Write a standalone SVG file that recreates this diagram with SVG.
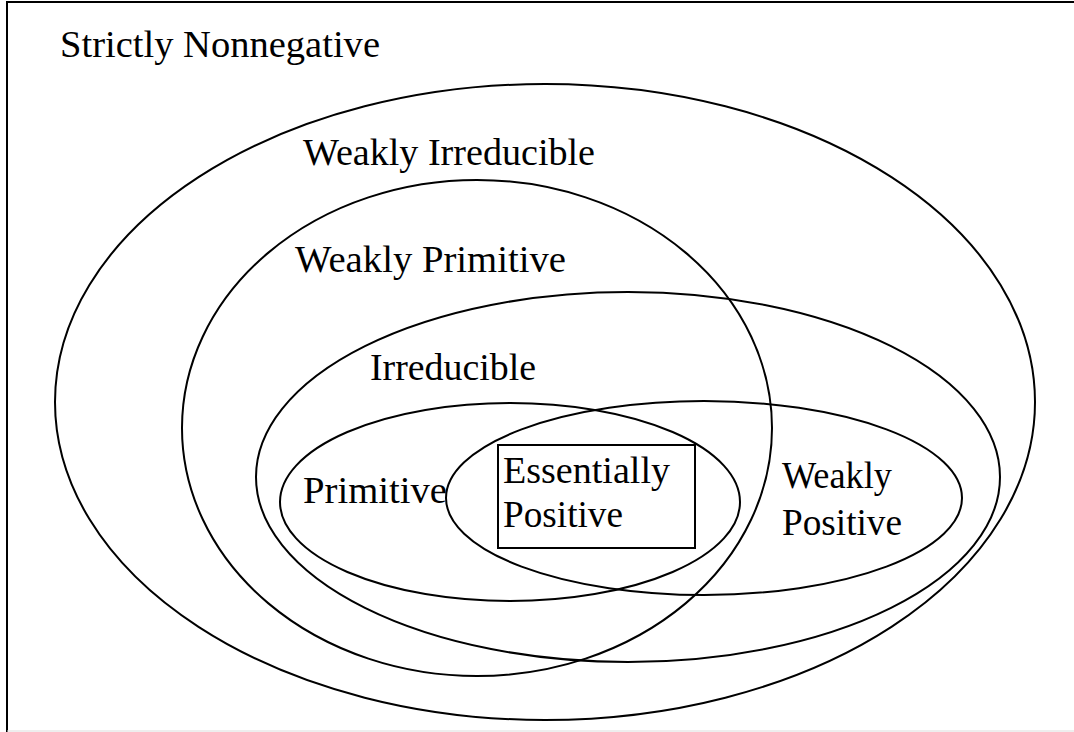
<svg xmlns="http://www.w3.org/2000/svg" width="1074" height="732" viewBox="0 0 1074 732">
<style>
.s{fill:none;stroke:#000;stroke-width:2}
.t{font-family:"Liberation Serif","DejaVu Serif",serif;font-size:37px;fill:#000}
</style>
<rect width="1074" height="732" fill="#fff"/>
<rect id="frame" class="s" x="7" y="2" width="1090" height="760"/>
<line x1="7" y1="731" x2="1074" y2="731" stroke="#ddd" stroke-width="1"/>
<g id="strictly-nonnegative"><text class="t" x="60" y="57" textLength="320" lengthAdjust="spacingAndGlyphs">Strictly Nonnegative</text></g>
<g id="weakly-irreducible"><ellipse class="s" cx="545" cy="402" rx="490" ry="318"/><text class="t" x="303" y="165" textLength="292" lengthAdjust="spacingAndGlyphs">Weakly Irreducible</text></g>
<g id="weakly-primitive"><ellipse class="s" cx="477" cy="428" rx="295" ry="248"/><text class="t" x="295" y="272" textLength="271" lengthAdjust="spacingAndGlyphs">Weakly Primitive</text></g>
<g id="irreducible"><ellipse class="s" cx="628" cy="477" rx="372" ry="185"/><text class="t" x="370" y="380" textLength="166" lengthAdjust="spacingAndGlyphs">Irreducible</text></g>
<g id="primitive"><ellipse class="s" cx="510" cy="502" rx="230" ry="99"/><text class="t" x="303" y="503" textLength="144" lengthAdjust="spacingAndGlyphs">Primitive</text></g>
<g id="weakly-positive"><ellipse class="s" cx="704" cy="498" rx="258" ry="97"/><text class="t" x="782" y="488" textLength="110" lengthAdjust="spacingAndGlyphs">Weakly</text><text class="t" x="782" y="535" textLength="120" lengthAdjust="spacingAndGlyphs">Positive</text></g>
<g id="essentially-positive"><rect class="s" x="498" y="445" width="197" height="103"/><text class="t" x="503" y="483" textLength="167" lengthAdjust="spacingAndGlyphs">Essentially</text><text class="t" x="503" y="527" textLength="120" lengthAdjust="spacingAndGlyphs">Positive</text></g>
</svg>
